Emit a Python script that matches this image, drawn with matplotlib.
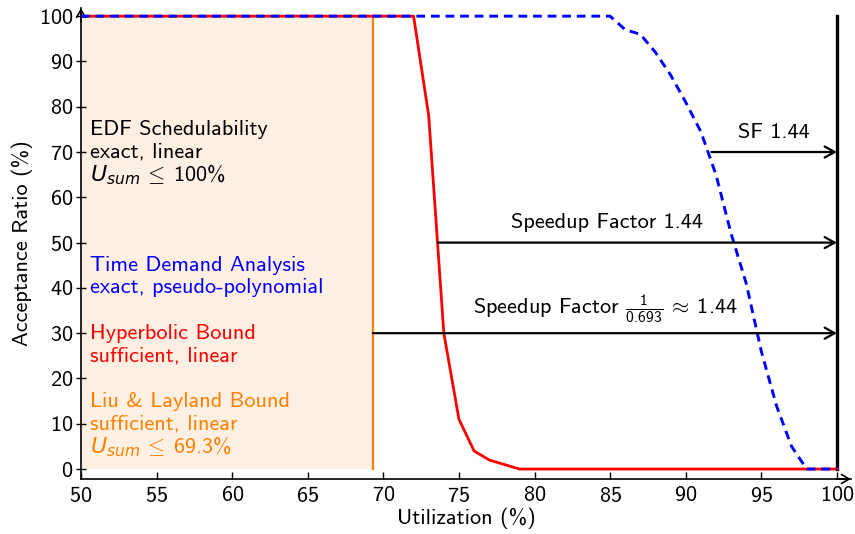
import matplotlib
matplotlib.use("Agg")
import matplotlib.pyplot as plt

plt.rcParams["font.family"] = ["cmss10", "DejaVu Sans"]
plt.rcParams["mathtext.fontset"] = "custom"
plt.rcParams["mathtext.rm"] = "cmss10"
plt.rcParams["mathtext.it"] = "DejaVu Sans:italic"
plt.rcParams["axes.formatter.use_mathtext"] = True
plt.rcParams["font.size"] = 16

# --- data ---
hb_util = [50, 72, 73, 74, 75, 76, 77, 78, 79, 100]
hb_ratio = [100, 100, 78, 30, 11, 4, 2, 1, 0, 0]

tda_util = [50, 85, 86, 87, 88, 89, 90, 91, 92, 93, 94, 95, 96, 97, 98, 99, 100]
tda_ratio = [100, 100, 97, 96, 92, 87, 81, 74.5, 65, 52, 41, 26, 14, 5, 0, 0, 0]

ll_bound = 69.3
edf_bound = 100

# speedup arrows: (start util, ratio level, label, label x, label y)
arrows = [
    (91.7, 70, "SF 1.44", 95.8, 74.3),
    (73.6, 50, "Speedup Factor 1.44", 84.8, 54.5),
    (69.3, 30, r"Speedup Factor $\frac{1}{0.693} \,\approx\, 1.44$", 84.7, 35.5),
]

# annotation blocks: (lines, colour, first y)
blocks = [
    (["EDF Schedulability", "exact, linear", r"$U_{sum} \,\leq\, 100\%$"], "black", 75),
    (["Time Demand Analysis", "exact, pseudo-polynomial"], "blue", 45),
    (["Hyperbolic Bound", "sufficient, linear"], "red", 30),
    (["Liu & Layland Bound", "sufficient, linear", r"$U_{sum} \,\leq\, 69.3\%$"], "#ff8000", 15),
]

fig = plt.figure(figsize=(8.55, 5.34), dpi=100)
ax = fig.add_axes([0.0947, 0.103, 0.9006, 0.882])

ax.fill_between([50, ll_bound], 0, 100, color="#fff0e3", lw=0, zorder=0)
ax.plot([ll_bound, ll_bound], [0, 100], color="#ff8000", lw=1.6, zorder=2)
ax.plot([edf_bound, edf_bound], [0, 100], color="black", lw=2.4, zorder=2)

ax.plot(hb_util, hb_ratio, color="red", lw=2.0, zorder=3)
ax.plot(tda_util, tda_ratio, color="blue", lw=2.1, dashes=(3.0, 2.0), zorder=4)

for x0, y0, label, lx, ly in arrows:
    ax.annotate("", xy=(edf_bound, y0), xytext=(x0, y0),
                arrowprops=dict(arrowstyle="->,head_length=0.45,head_width=0.25",
                                lw=1.6, color="black", shrinkA=0, shrinkB=0),
                zorder=5)
    ax.text(lx, ly, label, ha="center", va="center")

for lines, col, y_first in blocks:
    for i, line in enumerate(lines):
        ax.text(50.6, y_first - 5 * i, line, color=col, ha="left", va="center")

ax.set_xlim(50, 100.93)
ax.set_ylim(-2.2, 101.8)
ax.set_xticks(range(50, 101, 5))
ax.set_yticks(range(0, 101, 10))
ax.tick_params(axis="x", direction="in", length=5, width=1, pad=5)
ax.tick_params(axis="y", direction="inout", length=7, width=1, pad=2)

for side in ("top", "right"):
    ax.spines[side].set_visible(False)
for side in ("left", "bottom"):
    ax.spines[side].set_linewidth(1.2)

# arrow heads on the axis lines
head = dict(arrowstyle="->,head_length=0.35,head_width=0.2", lw=1.2, color="black",
            shrinkA=0, shrinkB=0)
ax.annotate("", xy=(1.0, 0), xytext=(0.98, 0), xycoords="axes fraction",
            arrowprops=head, annotation_clip=False)
ax.annotate("", xy=(0, 1.0), xytext=(0, 0.97), xycoords="axes fraction",
            arrowprops=head, annotation_clip=False)

ax.set_xlabel("Utilization (%)", labelpad=1)
ax.set_ylabel("Acceptance Ratio (%)", labelpad=4)

fig.savefig("out.png", dpi=100)
